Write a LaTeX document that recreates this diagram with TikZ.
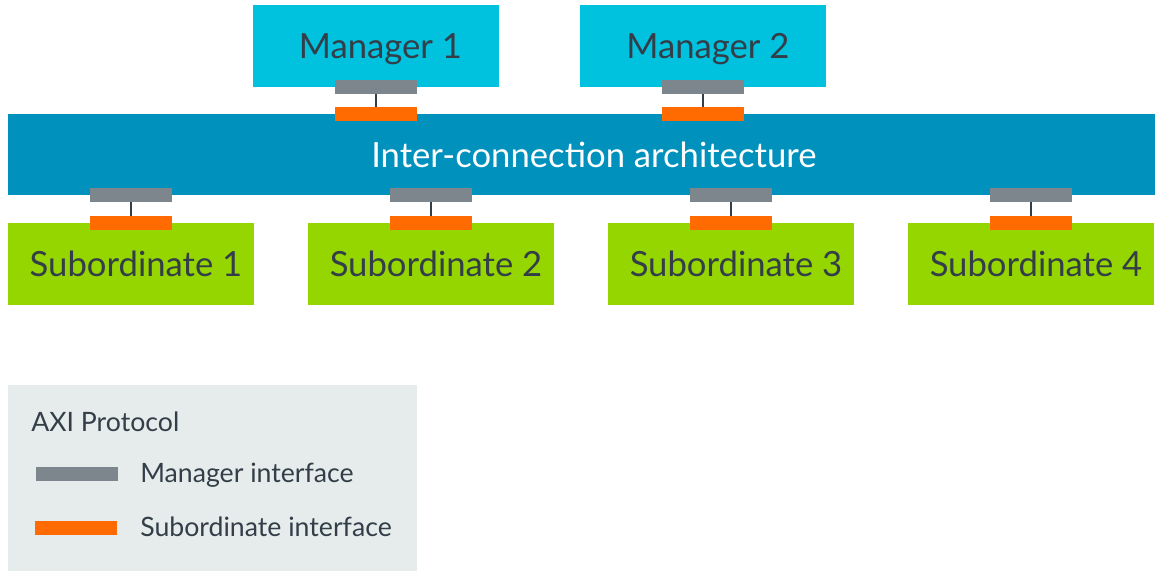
\documentclass[tikz,border=0pt]{standalone}
\usepackage{fontspec}
\setmainfont{Lato}
\usepackage{tikz}
\usetikzlibrary{positioning}

\definecolor{mgrcyan}{HTML}{00C1DE}
\definecolor{icblue}{HTML}{0091BD}
\definecolor{subgreen}{HTML}{95D600}
\definecolor{mifgray}{HTML}{7D868C}
\definecolor{siforange}{HTML}{FF6B00}
\definecolor{legendbg}{HTML}{E5ECEB}
\definecolor{textdark}{HTML}{333E48}

\begin{document}
\begin{tikzpicture}[x=0.75pt, y=-0.75pt,
    box/.style={rectangle, inner sep=0pt, outer sep=0pt, minimum width=184.5pt, minimum height=61.5pt, text depth=0pt, text=textdark, font=\fontsize{26}{30}\selectfont, execute at begin node=\hspace*{7.5pt}},
    mgrbox/.style={box, fill=mgrcyan},
    subbox/.style={box, fill=subgreen},
    mif/.style={rectangle, inner sep=0pt, outer sep=0pt, minimum width=61.5pt, minimum height=10.5pt, fill=mifgray},
    sif/.style={mif, fill=siforange},
    link/.style={draw=textdark, line width=1.5pt},
    legendtext/.style={anchor=base west, inner sep=0pt, text=textdark, font=\fontsize{20}{24}\selectfont}]

    \useasboundingbox (0,0) rectangle (1156,571);

    % Nodes
    \node[mgrbox] (mgr1) at (375.5,46) {Manager 1};
    \node[mgrbox] (mgr2) at (703,46) {Manager 2};
    \node[box, fill=icblue, text=white, minimum width=860.25pt, minimum height=60.75pt, execute at begin node=\hspace*{11pt}] (ic) at (581.5,154.5) {Inter-connection architecture};
    \node[subbox] (sub1) at (131,264) {Subordinate 1};
    \node[subbox] (sub2) at (431,264) {Subordinate 2};
    \node[subbox] (sub3) at (731,264) {Subordinate 3};
    \node[subbox] (sub4) at (1031,264) {Subordinate 4};

    % Interfaces
    \node[mif] (mgr1m) at (mgr1.south) {};
    \node[sif] (mgr1s) at (ic.north -| mgr1.south) {};
    \node[mif] (mgr2m) at (mgr2.south) {};
    \node[sif] (mgr2s) at (ic.north -| mgr2.south) {};
    \node[mif] (sub1m) at (ic.south -| sub1.north) {};
    \node[sif] (sub1s) at (sub1.north) {};
    \node[mif] (sub2m) at (ic.south -| sub2.north) {};
    \node[sif] (sub2s) at (sub2.north) {};
    \node[mif] (sub3m) at (ic.south -| sub3.north) {};
    \node[sif] (sub3s) at (sub3.north) {};
    \node[mif] (sub4m) at (ic.south -| sub4.north) {};
    \node[sif] (sub4s) at (sub4.north) {};

    % Links
    \draw[link] (mgr1m) -- (mgr1s);
    \draw[link] (mgr2m) -- (mgr2s);
    \draw[link] (sub1m) -- (sub1s);
    \draw[link] (sub2m) -- (sub2s);
    \draw[link] (sub3m) -- (sub3s);
    \draw[link] (sub4m) -- (sub4s);

    % Legend
    \node[rectangle, fill=legendbg, inner sep=0pt, minimum width=306.75pt, minimum height=139.5pt] (legend) at (212.5,478) {};
    \node[legendtext] (legendtitle) at (31,431) {AXI Protocol};
    \node[mif] (legmif) at (77,473.5) {};
    \node[legendtext] (legmiftext) at (140,482) {Manager interface};
    \node[sif] (legsif) at (76,527.5) {};
    \node[legendtext] (legsiftext) at (140,536) {Subordinate interface};
\end{tikzpicture}
\end{document}
